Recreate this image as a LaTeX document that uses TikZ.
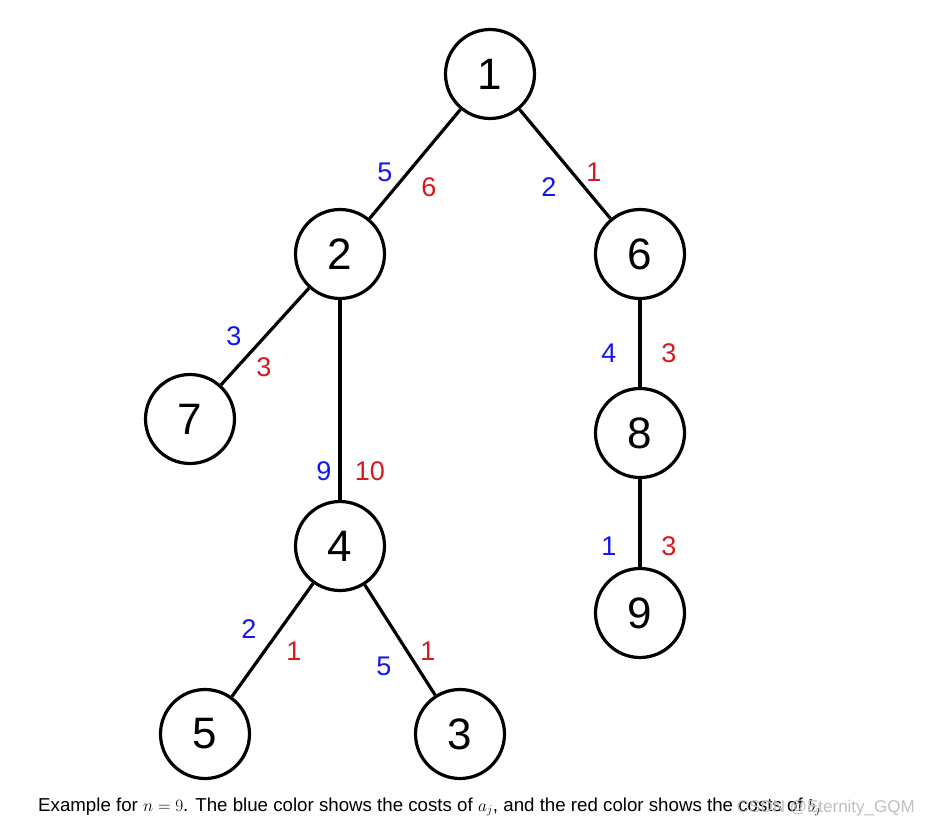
\documentclass[tikz,border=0pt]{standalone}
\usepackage{amsmath}
\usepackage{fontspec}
\setmainfont{Liberation Sans}
\usepackage{tikz}

\definecolor{costa}{RGB}{20,20,245}
\definecolor{costb}{RGB}{215,25,30}

\begin{document}
\begin{tikzpicture}[x=1pt,y=-1pt,
	vertex/.style={draw,circle,line width=3.2pt,minimum size=89pt,inner sep=0pt,font=\fontsize{44}{44}\selectfont},
	edge/.style={line width=3.2pt},
	ca/.style={text=costa,inner sep=0pt,font=\fontsize{27}{27}\selectfont},
	cb/.style={text=costb,inner sep=0pt,font=\fontsize{27}{27}\selectfont}]
	\useasboundingbox (0,0) rectangle (929,827);

	\node[vertex] (v1) at (490,74) {1};
	\node[vertex] (v2) at (340,254) {2};
	\node[vertex] (v6) at (640,254) {6};
	\node[vertex] (v7) at (190,419) {7};
	\node[vertex] (v8) at (640,433) {8};
	\node[vertex] (v4) at (340,546) {4};
	\node[vertex] (v9) at (640,613) {9};
	\node[vertex] (v5) at (205,734) {5};
	\node[vertex] (v3) at (460,734) {3};

	\draw[edge] (v1) -- (v2);
	\draw[edge] (v1) -- (v6);
	\draw[edge] (v2) -- (v7);
	\draw[edge] (v2) -- (v4);
	\draw[edge] (v6) -- (v8);
	\draw[edge] (v8) -- (v9);
	\draw[edge] (v4) -- (v5);
	\draw[edge] (v4) -- (v3);

	\node[ca] (a12) at (385,172) {5};   \node[cb] (b12) at (429,187) {6};
	\node[ca] (a16) at (549,187) {2};   \node[cb] (b16) at (594,172) {1};
	\node[ca] (a27) at (234,336) {3};   \node[cb] (b27) at (264,367) {3};
	\node[ca] (a24) at (324,471) {9};   \node[cb] (b24) at (370,471) {10};
	\node[ca] (a68) at (609,353) {4};   \node[cb] (b68) at (669,353) {3};
	\node[ca] (a89) at (609,546) {1};   \node[cb] (b89) at (669,546) {3};
	\node[ca] (a45) at (249,629) {2};   \node[cb] (b45) at (294,651) {1};
	\node[ca] (a43) at (384,666) {5};   \node[cb] (b43) at (428,651) {1};

	\node[anchor=west,inner sep=0pt,font=\fontsize{18.7}{18.7}\selectfont] (cap) at (38,807)
		{Example for $n=9$. The blue color shows the costs of $a_j$, and the red color shows the costs of $b_j$};
	\node[anchor=east,inner sep=0pt,text=black!25,font=\fontsize{17}{17}\selectfont] (mark) at (915,808) {CSDN @Eternity\_GQM};
\end{tikzpicture}
\end{document}
